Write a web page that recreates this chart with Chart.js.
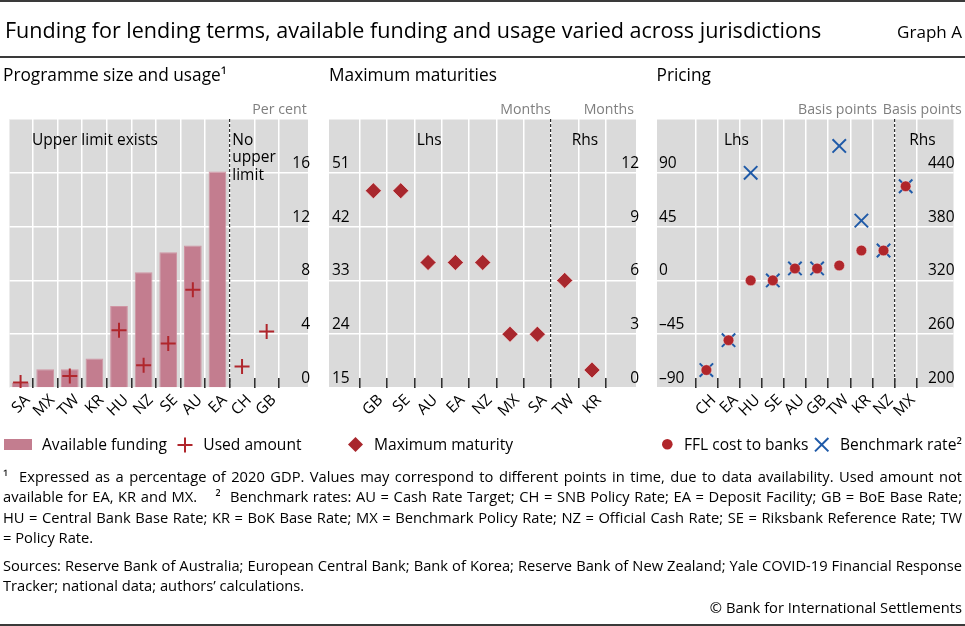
<!DOCTYPE html>
<html><head><meta charset="utf-8">
<script src="https://cdn.jsdelivr.net/npm/chart.js@4.4.1/dist/chart.umd.min.js"></script>
<style>
html,body{margin:0;padding:0;background:#fff;}
body{width:965px;height:626px;position:relative;overflow:hidden;font-family:'Open Sans',sans-serif;color:#000;}
canvas{position:absolute;left:0;top:0;}
.t{position:absolute;white-space:nowrap;line-height:1;}
.hr{position:absolute;left:0;width:965px;height:2px;background:#3a3a3a;}
svg{position:absolute;overflow:visible;}
</style></head><body>
<canvas id="c1" width="965" height="626"></canvas>
<canvas id="c2" width="965" height="626"></canvas>
<canvas id="c3" width="965" height="626"></canvas>
<div class="hr" style="top:0px"></div>
<div class="hr" style="top:56px"></div>
<div class="hr" style="top:624px"></div>
<script>
// ---------------- DATA ----------------
const cats1 = ['SA','MX','TW','KR','HU','NZ','SE','AU','EA','CH','GB'];
const funding = [0.4, 1.4, 1.4, 2.2, 6.1, 8.6, 10.1, 10.6, 16.1, null, null];
const usedAmount = [0.4, null, 0.9, null, 4.3, 1.7, 3.3, 7.3, null, 1.6, 4.2];
const ticks1 = [0, 4, 8, 12, 16, 20];

const cats2 = ['GB','SE','AU','EA','NZ','MX','SA','TW','KR'];
const maturityLhs = [48, 48, 36, 36, 36, 24, 24, null, null];
const maturityRhs = [null, null, null, null, null, null, null, 6, 1];
const ticks2L = [15, 24, 33, 42, 51, 60];
const ticks2R = [0, 3, 6, 9, 12, 15];

const cats3 = ['CH','EA','HU','SE','AU','GB','TW','KR','NZ','MX'];
const fflLhs = [-75, -50, 0, 0, 10, 10, 12.5, 25, 25, null];
const fflRhs = [null, null, null, null, null, null, null, null, null, 425];
const benchLhs = [-75, -50, 90, 0, 10, 10, 112.5, 50, 25, null];
const benchRhs = [null, null, null, null, null, null, null, null, null, 425];
const ticks3L = [-90, -45, 0, 45, 90, 135];
const ticks3R = [200, 260, 320, 380, 440, 500];

// ---------------- FONT FITTING ----------------
const FAM = 'Open Sans';
const mc = document.createElement('canvas').getContext('2d');
function fit(text, width){ mc.font = '100px "'+FAM+'"'; return 100*width/mc.measureText(text).width; }
const TITLE = 'Funding for lending terms, available funding and usage varied across jurisdictions';
const S1 = 'Sources: Reserve Bank of Australia; European Central Bank; Bank of Korea; Reserve Bank of New Zealand; Yale COVID-19 Financial Response';
const F_TITLE = fit(TITLE, 817);
const F_GRAPH = fit('Graph A', 65);
const F_PANEL = fit('Maximum maturities', 168);
const F_UNIT = fit('Basis points', 79);
const F_TICK = fit('Upper limit exists', 126);
const F_LEG = fit('Available funding', 125);
const F_FOOT = fit(S1, 957);

Chart.defaults.font.family = "'Open Sans'";
Chart.defaults.color = '#000';

const GREY = '#dadada', GRID = '#ffffff';
const XH = 40; // height reserved for the x-axis label box
const fmt = v => v < 0 ? '\u2013' + (-v) : String(v);
function align(chart, px, w){ const d = chart.currentDevicePixelRatio || 1; return Math.round((px - w/2)*d)/d + w/2; }

const deco = {
  id: 'deco',
  beforeDraw(chart){
    const {ctx, chartArea:a} = chart;
    ctx.save(); ctx.fillStyle = GREY; ctx.fillRect(a.left, a.top, a.right-a.left, a.bottom-a.top); ctx.restore();
  },
  beforeDatasetsDraw(chart, args, o){
    const {ctx, chartArea:a, scales:{x}} = chart;
    ctx.save();
    ctx.strokeStyle = '#303030'; ctx.lineWidth = 1.6;
    for (let i = 0; i <= o.n; i++){
      const raw = x.getPixelForValue(i + 0.5);
      if (raw <= a.left + 2 || raw >= a.right - 2) continue;
      const px = align(chart, raw, 1.6);
      ctx.beginPath(); ctx.moveTo(px, a.bottom); ctx.lineTo(px, a.bottom - 10); ctx.stroke();
    }
    const dx = align(chart, x.getPixelForValue(o.dashAt), 1.2);
    ctx.lineWidth = 1.2; ctx.setLineDash([3, 2]);
    ctx.beginPath(); ctx.moveTo(dx, a.top); ctx.lineTo(dx, a.bottom); ctx.stroke();
    ctx.restore();
  }
};

function xAxis(cats, min, max){
  return {
    type: 'linear', min, max, offset: false,
    afterBuildTicks: s => { s.ticks = cats.map((c, i) => ({value: i + 1})); },
    afterFit: s => { s.height = XH; },
    grid: {offset: true, color: GRID, lineWidth: 1.5, drawTicks: false},
    border: {display: false},
    ticks: {autoSkip: false, minRotation: 45, maxRotation: 45, padding: 3, labelOffset: 7,
            color: '#000', font: {size: F_TICK}, callback: (v, i) => cats[i]}
  };
}
function yAxis(pos, tickVals, grid, pad){
  const top = tickVals[tickVals.length - 1];
  return {
    type: 'linear', position: pos, min: tickVals[0], max: top,
    afterBuildTicks: s => { s.ticks = tickVals.map(v => ({value: v})); },
    afterFit: s => { s.width = 0; },
    grid: grid ? {color: GRID, lineWidth: 1.5, drawTicks: false} : {display: false, drawTicks: false},
    border: {display: false},
    ticks: {mirror: true, padding: pad, labelOffset: -9.5, color: '#000', font: {size: F_TICK},
            callback: v => v === top ? '' : fmt(v)}
  };
}
const baseOpts = (pad) => ({
  responsive: false, animation: false, events: [],
  layout: {padding: pad},
  plugins: {legend: {display: false}, tooltip: {enabled: false}}
});
const xy = arr => arr.map((v, i) => ({x: i + 1, y: v}));
const BOT = 626 - 388 - XH;

// Panel 1
new Chart(document.getElementById('c1'), {
  type: 'bar',
  data: {datasets: [
    {type: 'line', label: 'Used amount', data: xy(usedAmount), showLine: false, pointStyle: 'cross',
     pointRadius: 7.5, pointHoverRadius: 7.5, pointBorderColor: '#b0262c', pointBorderWidth: 2, order: 0},
    {type: 'bar', label: 'Available funding', data: xy(funding), backgroundColor: '#c37d8f',
     borderColor: '#cf95a3', borderWidth: 1, barPercentage: 0.9, categoryPercentage: 0.8, order: 1}
  ]},
  options: Object.assign(baseOpts({left: 2, top: 119, right: 965 - 308, bottom: BOT}), {
    scales: {x: xAxis(cats1, 0.55, 12.68), y: yAxis('right', ticks1, true, 2)},
    plugins: {legend: {display: false}, tooltip: {enabled: false}, deco: {n: 11, dashAt: 9.5}}
  }),
  plugins: [deco]
});

// Panel 2
const diamond = {showLine: false, pointStyle: 'rectRot', pointRadius: 8, pointHoverRadius: 8,
  pointBackgroundColor: '#a8272d', pointBorderColor: 'rgba(255,235,235,0.55)', pointBorderWidth: 1};
new Chart(document.getElementById('c2'), {
  type: 'line',
  data: {datasets: [
    Object.assign({label: 'Maximum maturity', data: xy(maturityLhs), yAxisID: 'y'}, diamond),
    Object.assign({label: 'Maximum maturity (rhs)', data: xy(maturityRhs), yAxisID: 'y2'}, diamond)
  ]},
  options: Object.assign(baseOpts({left: 329, top: 119, right: 965 - 636, bottom: BOT}), {
    scales: {x: xAxis(cats2, -0.625, 10.61), y: yAxis('left', ticks2L, true, 3), y2: yAxis('right', ticks2R, false, 3)},
    plugins: {legend: {display: false}, tooltip: {enabled: false}, deco: {n: 9, dashAt: 7.5}}
  }),
  plugins: [deco]
});

// Panel 3
const dot = {showLine: false, pointStyle: 'circle', pointRadius: 5.3, pointHoverRadius: 5.3,
  pointBackgroundColor: '#b0262b', pointBorderColor: 'rgba(255,235,235,0.5)', pointBorderWidth: 0.8};
const cross = {showLine: false, pointStyle: 'crossRot', pointRadius: 9.5, pointHoverRadius: 9.5,
  pointBorderColor: '#1f5aa8', pointBorderWidth: 2};
new Chart(document.getElementById('c3'), {
  type: 'line',
  data: {datasets: [
    Object.assign({label: 'FFL cost to banks', data: xy(fflLhs), yAxisID: 'y'}, dot),
    Object.assign({label: 'FFL cost to banks (rhs)', data: xy(fflRhs), yAxisID: 'y2'}, dot),
    Object.assign({label: 'Benchmark rate', data: xy(benchLhs), yAxisID: 'y'}, cross),
    Object.assign({label: 'Benchmark rate (rhs)', data: xy(benchRhs), yAxisID: 'y2'}, cross)
  ]},
  options: Object.assign(baseOpts({left: 657, top: 119, right: 965 - 961, bottom: BOT}), {
    scales: {x: xAxis(cats3, -1.23, 12.16), y: yAxis('left', ticks3L, true, 2), y2: yAxis('right', ticks3R, false, 1)},
    plugins: {legend: {display: false}, tooltip: {enabled: false}, deco: {n: 10, dashAt: 9.5}}
  }),
  plugins: [deco]
});

// ---------------- TEXT ----------------
function addText(html, x, baseline, size, o = {}){
  const d = document.createElement('div');
  d.className = 't';
  d.innerHTML = html;
  d.style.fontSize = size + 'px';
  d.style.color = o.color || '#000';
  d.style.top = (baseline - 0.888*size) + 'px';
  if (o.width){ d.style.width = o.width + 'px'; d.style.whiteSpace = 'normal';
    d.style.textAlign = 'justify'; d.style.textAlignLast = 'justify'; }
  document.body.appendChild(d);
  const w = d.getBoundingClientRect().width;
  const al = o.align || 'left';
  d.style.left = (al === 'right' ? x - w : al === 'center' ? x - w/2 : x) + 'px';
  return d;
}
addText(TITLE, 5, 38, F_TITLE);
addText('Graph A', 962, 38, F_GRAPH, {align: 'right'});
addText('Programme size and usage\u00B9', 3, 81, F_PANEL);
addText('Maximum maturities', 329, 81, F_PANEL);
addText('Pricing', 656.5, 81, F_PANEL);
const UC = '#7f7f7f';
addText('Per cent', 306.7, 114.5, F_UNIT, {align: 'right', color: UC});
addText('Months', 550.7, 114.5, F_UNIT, {align: 'right', color: UC});
addText('Months', 634, 114.5, F_UNIT, {align: 'right', color: UC});
addText('Basis points', 877, 114.5, F_UNIT, {align: 'right', color: UC});
addText('Basis points', 961.7, 114.5, F_UNIT, {align: 'right', color: UC});
addText('Upper limit exists', 32, 145.5, F_TICK);
addText('No', 232.3, 145.5, F_TICK);
addText('upper', 232.3, 163, F_TICK);
addText('limit', 232.3, 181, F_TICK);
addText('Lhs', 416.7, 145.5, F_TICK);
addText('Rhs', 571.7, 145.5, F_TICK);
addText('Lhs', 724, 145.5, F_TICK);
addText('Rhs', 909.3, 145.5, F_TICK);

// legend
function svg(x, y, w, h, inner){
  const s = document.createElementNS('http://www.w3.org/2000/svg', 'svg');
  s.setAttribute('width', w); s.setAttribute('height', h);
  s.style.left = x + 'px'; s.style.top = y + 'px';
  s.innerHTML = inner; document.body.appendChild(s);
}
const LB = 450.5, LC = 444.5;
svg(4, LC - 5.5, 28, 11, '<rect x="0" y="0" width="28" height="11" fill="#c37d8f"/>');
addText('Available funding', 42, LB, F_LEG);
svg(177, LC - 8, 16, 16, '<path d="M8 0.5V15.5M0.5 8H15.5" stroke="#b0262c" stroke-width="2"/>');
addText('Used amount', 203.3, LB, F_LEG);
svg(348.3, LC - 7.5, 15, 15, '<path d="M7.5 0L15 7.5L7.5 15L0 7.5Z" fill="#a8272d"/>');
addText('Maximum maturity', 374, LB, F_LEG);
svg(661.5, LC - 5.3, 10.6, 10.6, '<circle cx="5.3" cy="5.3" r="5.3" fill="#b0262b"/>');
addText('FFL cost to banks', 684, LB, F_LEG);
svg(815.3, LC - 6.7, 13.4, 13.4, '<path d="M0 0L13.4 13.4M13.4 0L0 13.4" stroke="#1f5aa8" stroke-width="2"/>');
addText('Benchmark rate\u00B2', 840, LB, F_LEG);

// footnotes
const FW = 959;
function footSize(text){ return Math.min(F_FOOT, fit(text, FW - 4)); }
const foot = [
  ['\u00B9&nbsp; Expressed as a percentage of 2020 GDP. Values may correspond to different points in time, due to data availability. Used amount not', 482, true],
  ['available for EA, KR and MX.&nbsp;&nbsp;&nbsp; \u00B2&nbsp; Benchmark rates: AU = Cash Rate Target; CH = SNB Policy Rate; EA = Deposit Facility; GB = BoE Base Rate;', 502.5, true],
  ['HU = Central Bank Base Rate; KR = BoK Base Rate; MX = Benchmark Policy Rate; NZ = Official Cash Rate; SE = Riksbank Reference Rate; TW', 523, true],
  ['= Policy Rate.', 543.5, false],
  [S1, 571, true],
  ['Tracker; national data; authors\u2019 calculations.', 591, false]
];
foot.forEach(([t, b, j]) => {
  const plain = t.replace(/&nbsp;/g, ' ');
  addText(t, 3, b, footSize(plain), j ? {width: FW} : {});
});
addText('\u00A9 Bank for International Settlements', 962, 613.5, F_FOOT, {align: 'right'});
</script>
</body></html>
